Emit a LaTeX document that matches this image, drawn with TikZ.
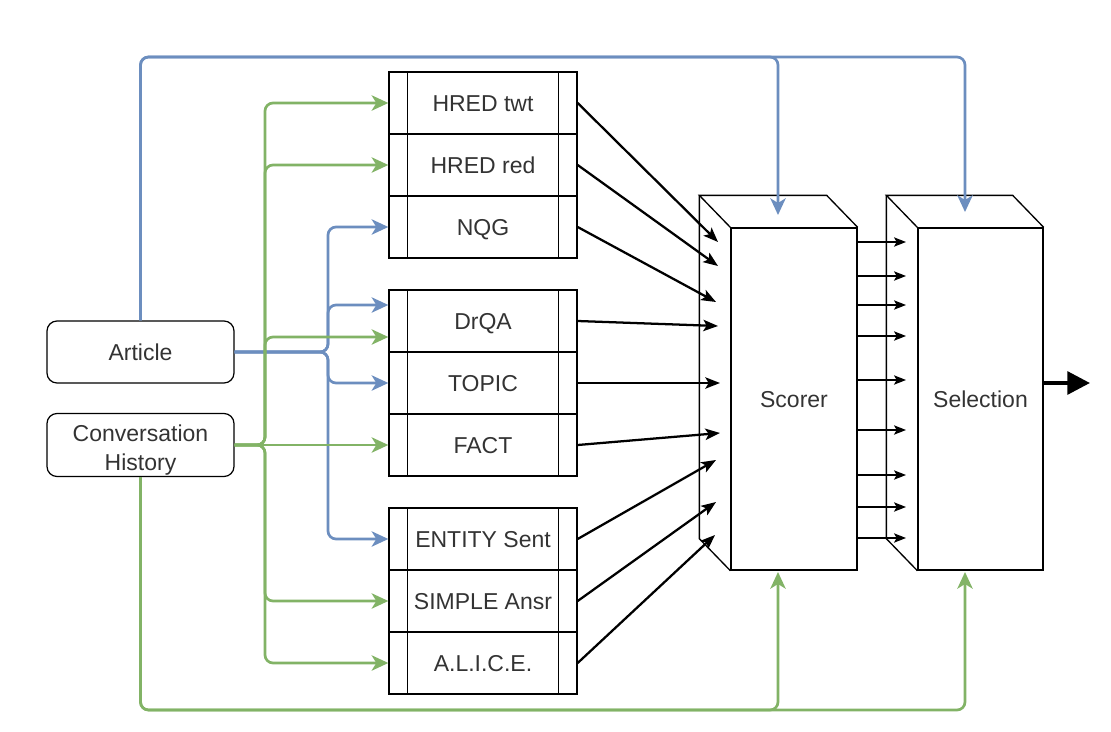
\documentclass[tikz,border=0pt]{standalone}
\usepackage{fontspec}
\setmainfont{Liberation Sans}
\usetikzlibrary{arrows.meta,calc}
\definecolor{bl}{HTML}{6C8EBF}
\definecolor{gr}{HTML}{82B366}
\definecolor{txt}{HTML}{333333}
\begin{document}
\begin{tikzpicture}[x=0.75pt,y=-0.75pt,
  font=\fontsize{17.25}{21.75}\selectfont,
  capc/.style={text height=12.35pt, text depth=0pt},
  proc/.style={draw, line width=1pt, minimum width=141pt, minimum height=46.5pt, inner sep=0pt, text=txt, capc},
  src/.style={draw, rounded corners=7.5pt, line width=0.9pt, minimum width=140.25pt, minimum height=46.5pt, inner sep=0pt, text=txt},
  face/.style={draw, line width=1pt, minimum height=256.5pt, inner sep=0pt, text=txt, capc},
  edgeln/.style={line width=1pt},
  bline/.style={bl, line width=2pt, rounded corners=6pt, -{Stealth[length=12.5pt,width=11.5pt,inset=3.5pt]}},
  gline/.style={gr, line width=2pt, rounded corners=6pt, -{Stealth[length=12.5pt,width=11.5pt,inset=3.5pt]}},
  kin/.style={black, line width=1.7pt, -{Stealth[length=11pt,width=8.5pt,inset=2.5pt]}},
  kmid/.style={black, line width=0.9pt, -{Stealth[length=9pt,width=7pt,inset=2pt]}},
  kout/.style={black, line width=3pt, -{Triangle[length=17pt,width=17pt]}}
]
\useasboundingbox (0,0) rectangle (1111,732);

% sources
\node[src, capc] (article) at (140.5,352) {Article};
\node[src, minimum height=47.25pt,
  label={[align=center, text=txt, yshift=-3.5pt]center:Conversation\\History}] (conv) at (140.5,445) {};

% process boxes
\node[proc] (hredtwt) at (483,103) {HRED twt};
\node[proc] (hredred) at (483,165) {HRED red};
\node[proc] (nqg)     at (483,227) {NQG};
\node[proc] (drqa)    at (483,321) {DrQA};
\node[proc] (topic)   at (483,383) {TOPIC};
\node[proc] (fact)    at (483,445) {FACT};
\node[proc] (entity)  at (483,539) {ENTITY Sent};
\node[proc] (simple)  at (483,601) {SIMPLE Ansr};
\node[proc] (alice)   at (483,663) {A.L.I.C.E.};
\foreach \a/\b in {hredtwt/nqg, drqa/fact, entity/alice}{
  \draw[edgeln] ([xshift=14.25pt]\a.north west) -- ([xshift=14.25pt]\b.south west);
  \draw[edgeln] ([xshift=-14.25pt]\a.north east) -- ([xshift=-14.25pt]\b.south east);
}

% 3D blocks
\node[face, minimum width=94.5pt] (scorer) at (794,399) {Scorer};
\node[face, minimum width=93.75pt] (selection) at (980.5,399) {Selection};
\foreach \n in {scorer, selection}{
  \draw[edgeln] (\n.north west) -- ++(-31,-32) -- ($(\n.north east)+(-31,-32)$) -- (\n.north east);
  \draw[edgeln] ($(\n.north west)+(-31,-32)$) -- ($(\n.south west)+(-31,-32)$) -- (\n.south west);
}

% arrows into scorer
\coordinate (s1) at (718,242);
\coordinate (s2) at (718,266);
\coordinate (s3) at (716,302);
\coordinate (s4) at (718,326);
\coordinate (s5) at (720,383);
\coordinate (s6) at (720,433);
\coordinate (s7) at (716,460);
\coordinate (s8) at (716,502);
\coordinate (s9) at (715,535);
\draw[kin] (hredtwt.east) -- (s1);
\draw[kin] (hredred.east) -- (s2);
\draw[kin] (nqg.east) -- (s3);
\draw[kin] (drqa.east) -- (s4);
\draw[kin] (topic.east) -- (s5);
\draw[kin] (fact.east) -- (s6);
\draw[kin] (entity.east) -- (s7);
\draw[kin] (simple.east) -- (s8);
\draw[kin] (alice.east) -- (s9);

% scorer -> selection
\foreach \y [count=\i] in {242,276,305,336,380,430,475,507,538}{
  \coordinate (m\i) at (906,\y);
  \draw[kmid] (scorer.east |- m\i) -- (m\i);
}

% output
\coordinate (out) at (1090,383);
\draw[kout] (selection.east |- out) -- (out);

% blue paths
\coordinate (scin) at (778,215);
\coordinate (selin) at (965,212);
\draw[bline] (article.north) -- (140.5,57) -- (965,57) -- (selin);
\draw[bline] (article.north) -- (140.5,57) -- (778,57) -- (scin);
\coordinate (ab) at (328,352);
\draw[bline] (article.east) -- (ab) |- (nqg.west);
\draw[bline] (article.east) -- (ab) |- ([yshift=12pt]drqa.west);
\draw[bline] (article.east) -- (ab) |- (topic.west);
\draw[bline] (article.east) -- (ab) |- (entity.west);

% green paths
\coordinate (gb) at (265,445);
\draw[gline] (conv.east) -- (gb) |- (hredtwt.west);
\draw[gline] (conv.east) -- (gb) |- (hredred.west);
\draw[gline] (conv.east) -- (gb) |- ([yshift=-12pt]drqa.west);
\draw[gline] (conv.east) -- (fact.west);
\draw[gline] (conv.east) -- (gb) |- (simple.west);
\draw[gline] (conv.east) -- (gb) |- (alice.west);
\coordinate (scbot) at (778,572);
\coordinate (selbot) at (965,572);
\draw[gline] (conv.south) -- (140.5,710) -- (778,710) -- (scbot);
\draw[gline] (conv.south) -- (140.5,710) -- (965,710) -- (selbot);
\end{tikzpicture}
\end{document}
